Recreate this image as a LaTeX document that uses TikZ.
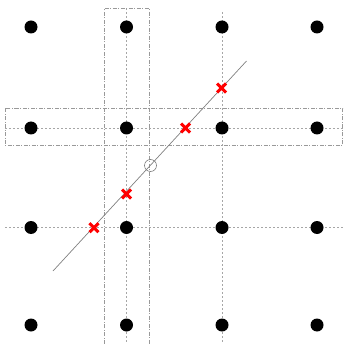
\documentclass[tikz,border=0pt]{standalone}
\usetikzlibrary{shapes.misc}
\begin{document}
\begin{tikzpicture}[x=1pt,y=-1pt,
  dot/.style={circle,fill=black,inner sep=0pt,minimum size=13pt},
  gridline/.style={gray!70,line width=0.6pt,dash pattern=on 2pt off 2pt},
  boxline/.style={gray!80,line width=0.6pt,dash pattern=on 4pt off 1.5pt on 1pt off 1.5pt},
  diag/.style={gray,line width=0.7pt},
  xmark/.style={cross out,draw=red,line width=3pt,minimum size=6pt,inner sep=0pt},
  ring/.style={circle,draw=gray,line width=0.6pt,minimum size=12pt,inner sep=0pt}]
\useasboundingbox (0,0) rectangle (344,344);
% grid lines
\coordinate (v1t) at (126.5,8.3); \coordinate (v1b) at (126.5,344);
\coordinate (v2t) at (222,12); \coordinate (v2b) at (222,344);
\coordinate (h1l) at (5.3,128); \coordinate (h1r) at (344,128);
\coordinate (h2l) at (5.3,227.5); \coordinate (h2r) at (344,227.5);
\draw[gridline] (v1t) -- (v1b);
\draw[gridline] (v2t) -- (v2b);
\draw[gridline] (h1l) -- (h1r);
\draw[gridline] (h2l) -- (h2r);
% boxes
\coordinate (vb1) at (104.5,344); \coordinate (vb2) at (104.5,8.3);
\coordinate (vb3) at (149.5,8.3); \coordinate (vb4) at (149.5,344);
\draw[boxline] (vb1) -- (vb2) -- (vb3) -- (vb4);
\coordinate (hb1) at (5.3,108.3); \coordinate (hb2) at (342.5,145.7);
\draw[boxline] (hb1) rectangle (hb2);
% dots
\foreach \i/\x in {1/31,2/126.5,3/222,4/317}{
  \foreach \j/\y in {1/27,2/128,3/227.5,4/325}{
    \node[dot] (d\i\j) at (\x,\y) {};
  }
}
% diagonal
\coordinate (da) at (53,271); \coordinate (db) at (246.5,61);
\draw[diag] (da) -- (db);
\node[ring] (c) at (150.5,165.5) {};
% crosses
\node[xmark] (x1) at (94,227.7) {};
\node[xmark] (x2) at (126.5,194) {};
\node[xmark] (x3) at (185.5,128) {};
\node[xmark] (x4) at (221.5,88) {};
\end{tikzpicture}
\end{document}
